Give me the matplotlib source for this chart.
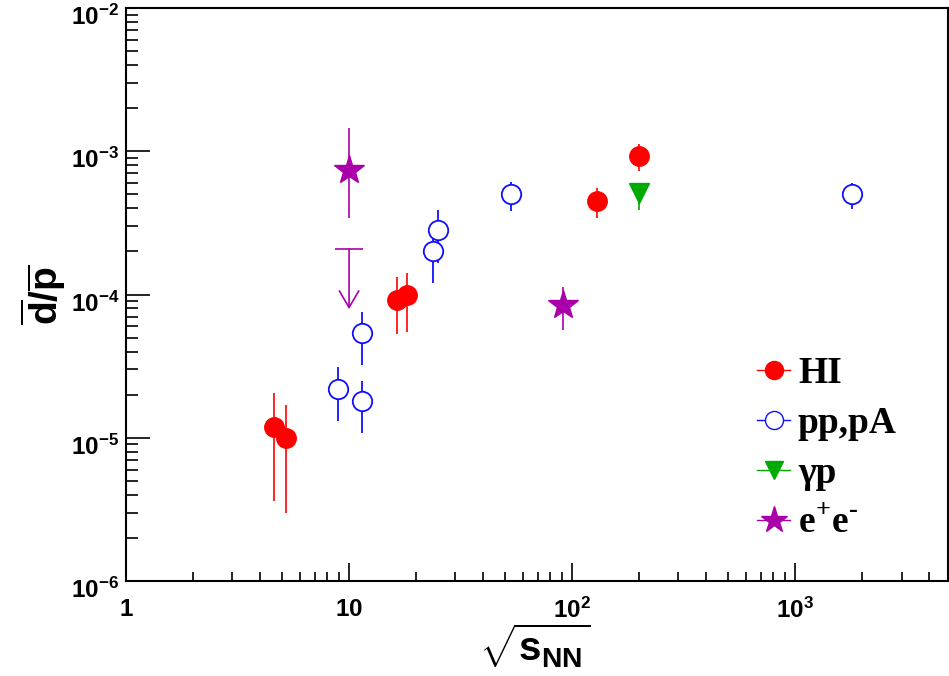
import numpy as np
import matplotlib
matplotlib.use('Agg')
import matplotlib.pyplot as plt
from matplotlib.lines import Line2D
from matplotlib.ticker import FixedLocator, NullFormatter, LogLocator
from matplotlib.transforms import ScaledTranslation

plt.rcParams['font.family'] = 'Liberation Sans'
plt.rcParams['font.weight'] = 'bold'
plt.rcParams['mathtext.fontset'] = 'custom'
plt.rcParams['mathtext.bf'] = 'Liberation Sans:bold'
plt.rcParams['mathtext.rm'] = 'Liberation Serif:bold'
plt.rcParams['mathtext.it'] = 'Liberation Sans:bold:italic'

# heavy ion points
hi_x = [4.6, 5.2, 16.4, 18.1, 130, 200]
hi_y = [1.19e-5, 1.0e-5, 9.2e-5, 9.9e-5, 4.5e-4, 9.3e-4]
hi_lo = [3.6e-6, 3.0e-6, 5.3e-5, 5.5e-5, 3.4e-4, 7.3e-4]
hi_hi = [2.06e-5, 1.7e-5, 1.33e-4, 1.41e-4, 5.55e-4, 1.12e-3]

# pp, pA points
pp_x = [8.9, 11.4, 11.4, 23.7, 25.0, 53, 1800]
pp_y = [2.2e-5, 1.8e-5, 5.4e-5, 2.0e-4, 2.8e-4, 5.0e-4, 5.0e-4]
pp_lo = [1.3e-5, 1.08e-5, 3.2e-5, 1.2e-4, 1.66e-4, 3.8e-4, 3.95e-4]
pp_hi = [3.1e-5, 2.5e-5, 7.6e-5, 2.8e-4, 3.9e-4, 6.1e-4, 6.0e-4]

# gamma p
gp_x = [200]
gp_y = [5.1e-4]
gp_lo = [3.9e-4]
gp_hi = [6.0e-4]

# e+e-
ee_x = [10, 91]
ee_y = [7.4e-4, 8.5e-5]
ee_lo = [3.4e-4, 5.7e-5]
ee_hi = [1.45e-3, 1.13e-4]

# e+e- upper limit
ul_x = 10
ul_y = 2.08e-4
ul_end = 7.9e-5

red = '#ff0000'
blue = '#1010ff'
green = '#00aa00'
magenta = '#aa00aa'


def yerr(y, lo, hi):
    y = np.array(y)
    return [y - np.array(lo), np.array(hi) - y]


fig = plt.figure(figsize=(9.49, 6.76), dpi=100)
ax = fig.add_axes([0.1328, 0.1405, 0.8662, 0.8476])
ax.set_xscale('log')
ax.set_yscale('log')
ax.set_xlim(1, 4850)
ax.set_ylim(1e-6, 1e-2)

ax.errorbar(pp_x, pp_y, yerr=yerr(pp_y, pp_lo, pp_hi), fmt='o', ms=14, mfc='white',
            mec=blue, mew=1.3, ecolor=blue, elinewidth=1.3, capsize=0, zorder=3)
ax.errorbar(hi_x, hi_y, yerr=yerr(hi_y, hi_lo, hi_hi), fmt='o', ms=14, color=red,
            ecolor=red, elinewidth=1.2, capsize=0, zorder=4)
ax.errorbar(gp_x, gp_y, yerr=yerr(gp_y, gp_lo, gp_hi), fmt='v', ms=14, color=green,
            ecolor=green, elinewidth=1.2, capsize=0, zorder=4)
ax.errorbar(ee_x, ee_y, yerr=yerr(ee_y, ee_lo, ee_hi), fmt='*', ms=22, color=magenta,
            ecolor=magenta, elinewidth=1.2, capsize=0, zorder=4)

# upper limit arrow
ax.plot([ul_x], [ul_y], marker='_', ms=20, mew=1.2, color=magenta)
ax.annotate('', xy=(ul_x, ul_end), xytext=(ul_x, ul_y),
            arrowprops=dict(arrowstyle='->,head_length=12,head_width=7', mutation_scale=1,
                            color=magenta, lw=1.2, shrinkA=0, shrinkB=0))

# ticks
ax.xaxis.set_major_locator(FixedLocator([1, 10, 100, 1000]))
ax.set_xticklabels([r'$\mathbf{1}$', r'$\mathbf{10}$', r'$\mathbf{10^{2}}$', r'$\mathbf{10^{3}}$'])
ax.xaxis.set_minor_locator(LogLocator(base=10, subs=np.arange(2, 10)))
ax.xaxis.set_minor_formatter(NullFormatter())
ax.yaxis.set_major_locator(FixedLocator([1e-6, 1e-5, 1e-4, 1e-3, 1e-2]))
ax.set_yticklabels([r'$\mathbf{10^{-%d}}$' % k for k in [6, 5, 4, 3, 2]])
ax.yaxis.set_minor_locator(LogLocator(base=10, subs=np.arange(2, 10)))
ax.yaxis.set_minor_formatter(NullFormatter())

ax.tick_params(axis='x', which='major', direction='in', length=13, width=1.2, labelsize=17.5, pad=12)
ax.tick_params(axis='x', which='minor', direction='in', length=6.5, width=1.2)
ax.tick_params(axis='y', which='major', direction='in', length=17, width=1.2, labelsize=17.5, pad=5)
ax.tick_params(axis='y', which='minor', direction='in', length=8.5, width=1.2)
for s in ax.spines.values():
    s.set_linewidth(1.5)

# y labels sit a little below their ticks, as in the original
shift = ScaledTranslation(0, -5 / 72, fig.dpi_scale_trans)
for lab in ax.get_yticklabels():
    lab.set_transform(lab.get_transform() + shift)

ax.set_ylabel(r'$\overline{\mathbf{d}}\mathbf{/}\overline{\mathbf{p}}$', fontsize=28)
ax.yaxis.set_label_coords(-0.071, 0.5)
ax.set_xlabel(r'$\sqrt{\mathbf{s}_{\mathbf{NN}}}$', fontsize=29)
ax.xaxis.set_label_coords(0.497, -0.07)
ax.xaxis.label.set_va('top')

handles = [
    Line2D([], [], color=red, marker='o', ms=13, lw=1),
    Line2D([], [], color=blue, marker='o', ms=13, mfc='white', lw=1),
    Line2D([], [], color=green, marker='v', ms=13, lw=1),
    Line2D([], [], color=magenta, marker='*', ms=20, lw=1),
]
labels = ['HI', 'pp,pA', 'γp', 'e$^{+}$e$^{‐}$']
ax.legend(handles, labels, loc='upper left', bbox_to_anchor=(0.7676, 0.393), frameon=False,
          prop={'family': ['Liberation Serif', 'DejaVu Serif'], 'weight': 'bold', 'size': 27},
          handlelength=0.88, handletextpad=0.21, labelspacing=0.4, borderpad=0, borderaxespad=0)

fig.savefig('out.png', dpi=100)
